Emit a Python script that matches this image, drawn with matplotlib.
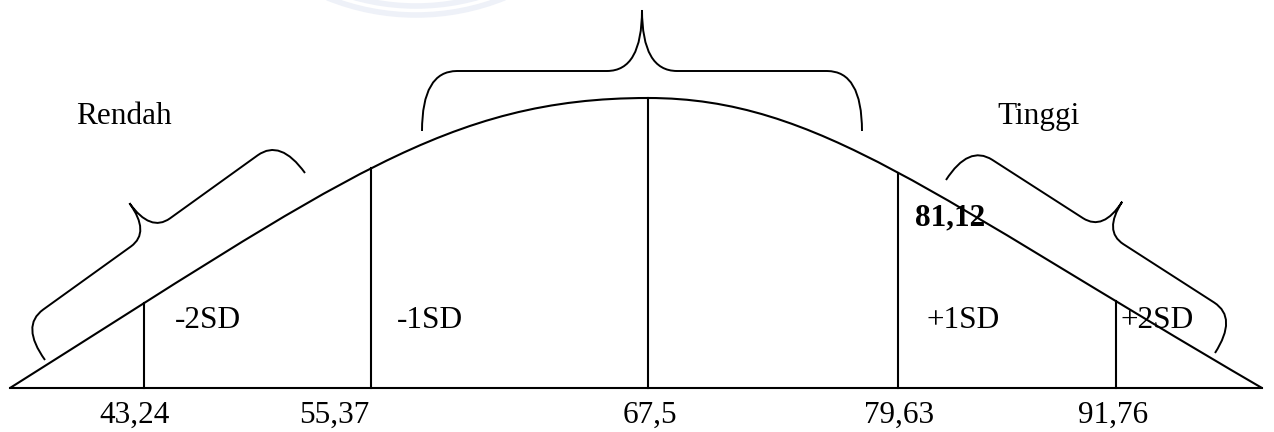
import numpy as np
import matplotlib
matplotlib.use("Agg")
import matplotlib.pyplot as plt
from matplotlib.path import Path
from matplotlib.patches import PathPatch, Arc
from matplotlib.bezier import BezierSegment

# values along the scale (cut points)
boundary_values = ['43,24', '55,37', '67,5', '79,63', '91,76']
sd_labels = ['-2SD', '-1SD', '+1SD', '+2SD']
group_labels = ['Rendah', 'Tinggi']
highlight = '81,12'

# ---- layout (pixel space, y pointing down) ----
W, H = 1274, 432
base_y = 388
line_x = [144, 371, 648, 898, 1116]
value_x = [135, 334, 650, 899, 1113]
sd_x = [175, 397, 927, 1120]
group_xy = [(76, 124), (997, 124)]

# bell outline as two cubic bezier halves
left_half = [(10, 388), (340, 180), (448, 98), (648, 98)]
right_half = [(648, 98), (818, 98), (932, 196), (1262, 388)]

# braces: end points, shoulder depth, corner size, tip depth, tip half width
braces = [
    ((45, 360), (305, 173), 42, 28, 78, 24),
    ((422, 131), (862, 131), 60, 35, 121, 35),
    ((946, 180), (1215, 353), 42, 28, 77, 24),
]

plt.rcParams['font.family'] = ['Liberation Serif', 'DejaVu Serif']

fig = plt.figure(figsize=(W / 100, H / 100), dpi=100)
ax = fig.add_axes([0, 0, 1, 1])
ax.set_xlim(0, W)
ax.set_ylim(H, 0)
ax.axis('off')

# very faint watermark arcs at the top
for r in [237, 228]:
    ax.add_patch(Arc((416, -222), 2 * r, 2 * r, theta1=68, theta2=112,
                     color='#eef1f8', lw=4, zorder=0))

# bell curve
verts = left_half + right_half[1:]
codes = [Path.MOVETO] + [Path.CURVE4] * 6
ax.add_patch(PathPatch(Path(verts, codes), fill=False, lw=1.5, ec='black'))

# baseline
ax.plot([left_half[0][0], right_half[-1][0]], [base_y, base_y], color='black', lw=1.5)

# vertical cut lines reaching the curve
t = np.linspace(0, 1, 500)
pts = np.vstack([BezierSegment(np.array(left_half, float))(t),
                 BezierSegment(np.array(right_half, float))(t)])
for x in line_x:
    top = np.interp(x, pts[:, 0], pts[:, 1])
    ax.plot([x, x], [base_y, top], color='black', lw=1.5)

for lab, x in zip(boundary_values, value_x):
    ax.text(x, 423, lab, ha='center', va='baseline', fontsize=22.5)

for lab, x in zip(sd_labels, sd_x):
    ax.text(x, 328, lab, ha='left', va='baseline', fontsize=22.5)

for lab, (x, y) in zip(group_labels, group_xy):
    ax.text(x, y, lab, ha='left', va='baseline', fontsize=22.5)

ax.text(915, 225, highlight, ha='left', va='baseline', fontsize=22.5, fontweight='bold')


def draw_brace(p0, p1, sh, rc, depth, tw):
    p0 = np.array(p0, float)
    p1 = np.array(p1, float)
    L = np.linalg.norm(p1 - p0)
    u = (p1 - p0) / L
    n = np.array([u[1], -u[0]])
    m = L / 2

    def P(s, v):
        return tuple(p0 + s * u + v * n)

    vv = [P(0, 0), P(0, sh), P(rc, sh),
          P(m - tw, sh), P(m, sh), P(m, depth),
          P(m, sh), P(m + tw, sh),
          P(L - rc, sh), P(L, sh), P(L, 0)]
    cc = [Path.MOVETO, Path.CURVE3, Path.CURVE3,
          Path.LINETO, Path.CURVE3, Path.CURVE3,
          Path.CURVE3, Path.CURVE3,
          Path.LINETO, Path.CURVE3, Path.CURVE3]
    ax.add_patch(PathPatch(Path(vv, cc), fill=False, lw=1.4, ec='black'))


for b in braces:
    draw_brace(*b)

fig.savefig('out.png', dpi=100, facecolor='white')
